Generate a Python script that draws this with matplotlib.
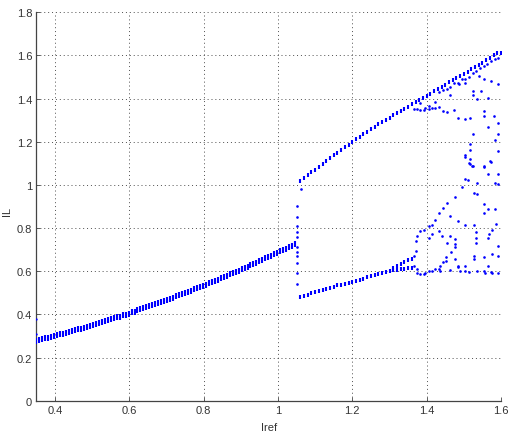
import matplotlib
matplotlib.use("Agg")
import matplotlib.pyplot as plt
from matplotlib import font_manager
from matplotlib.ticker import FuncFormatter

# ---- bifurcation data: inductor current samples IL versus reference current Iref ----

# period-1 branch
p1_iref = [0.350, 0.358, 0.366, 0.374, 0.382, 0.390, 0.398, 0.406, 0.414, 0.422,
           0.430, 0.438, 0.446, 0.454, 0.462, 0.470, 0.478, 0.486, 0.494, 0.502,
           0.510, 0.518, 0.526, 0.534, 0.542, 0.550, 0.558, 0.566, 0.574, 0.582,
           0.590, 0.598, 0.606, 0.614, 0.622, 0.630, 0.638, 0.646, 0.654, 0.662,
           0.670, 0.678, 0.686, 0.694, 0.702, 0.710, 0.718, 0.726, 0.734, 0.742,
           0.750, 0.758, 0.766, 0.774, 0.782, 0.790, 0.798, 0.806, 0.814, 0.822,
           0.830, 0.838, 0.846, 0.854, 0.862, 0.870, 0.878, 0.886, 0.894, 0.902,
           0.910, 0.918, 0.926, 0.934, 0.942, 0.950, 0.958, 0.966, 0.974, 0.982,
           0.990, 0.998, 1.006, 1.014, 1.022, 1.030, 1.038, 1.046]
p1_il = [0.278, 0.282, 0.285, 0.289, 0.292, 0.296, 0.300, 0.303, 0.307, 0.311,
         0.315, 0.318, 0.322, 0.326, 0.330, 0.334, 0.338, 0.343, 0.347, 0.351,
         0.355, 0.359, 0.364, 0.368, 0.372, 0.377, 0.381, 0.386, 0.390, 0.395,
         0.399, 0.404, 0.409, 0.413, 0.418, 0.423, 0.428, 0.433, 0.437, 0.442,
         0.447, 0.452, 0.458, 0.463, 0.468, 0.473, 0.478, 0.483, 0.489, 0.494,
         0.499, 0.505, 0.510, 0.516, 0.521, 0.527, 0.532, 0.538, 0.544, 0.549,
         0.555, 0.561, 0.567, 0.573, 0.579, 0.585, 0.591, 0.597, 0.603, 0.609,
         0.615, 0.621, 0.627, 0.634, 0.640, 0.646, 0.653, 0.659, 0.665, 0.672,
         0.678, 0.685, 0.692, 0.698, 0.705, 0.712, 0.718, 0.725]

# start-up samples at the first Iref value
start_iref = [0.350, 0.350]
start_il = [0.378, 0.308]

# samples at the border collision
jump_iref = [1.052, 1.052, 1.052, 1.052, 1.052, 1.052, 1.052, 1.052, 1.052, 1.052, 1.052, 1.061]
jump_il = [0.903, 0.849, 0.810, 0.780, 0.760, 0.710, 0.690, 0.670, 0.640, 0.590, 0.540, 0.983]

# period-2 upper branch (top edge of the band beyond 1.38)
hi_iref = [1.06, 1.07, 1.08, 1.09, 1.10, 1.11, 1.12, 1.13, 1.14, 1.15,
           1.16, 1.17, 1.18, 1.19, 1.20, 1.21, 1.22, 1.23, 1.24, 1.25,
           1.26, 1.27, 1.28, 1.29, 1.30, 1.31, 1.32, 1.33, 1.34, 1.35,
           1.36, 1.37, 1.38, 1.39, 1.40, 1.41, 1.42, 1.43, 1.44, 1.45,
           1.46, 1.47, 1.48, 1.49, 1.50, 1.51, 1.52, 1.53, 1.54, 1.55,
           1.56, 1.57, 1.58, 1.59, 1.60]
hi_il = [1.020, 1.033, 1.046, 1.058, 1.071, 1.084, 1.097, 1.111, 1.124, 1.137,
         1.149, 1.162, 1.174, 1.187, 1.199, 1.211, 1.223, 1.235, 1.246, 1.258,
         1.269, 1.280, 1.291, 1.301, 1.312, 1.322, 1.332, 1.343, 1.353, 1.363,
         1.373, 1.383, 1.393, 1.402, 1.412, 1.423, 1.434, 1.445, 1.455, 1.465,
         1.475, 1.485, 1.495, 1.505, 1.515, 1.525, 1.535, 1.545, 1.555, 1.566,
         1.577, 1.590, 1.600, 1.610, 1.612]

# period-2 lower branch
lo_iref = [1.06, 1.07, 1.08, 1.09, 1.10, 1.11, 1.12, 1.13, 1.14, 1.15,
           1.16, 1.17, 1.18, 1.19, 1.20, 1.21, 1.22, 1.23, 1.24, 1.25,
           1.26, 1.27, 1.28, 1.29, 1.30]
lo_il = [0.479, 0.486, 0.492, 0.498, 0.504, 0.509, 0.514, 0.519, 0.524, 0.529,
         0.534, 0.538, 0.543, 0.547, 0.552, 0.556, 0.561, 0.566, 0.571, 0.576,
         0.581, 0.586, 0.592, 0.597, 0.603]

# period-4 split of the lower branch
lo4_iref = [1.31, 1.32, 1.33, 1.34, 1.35, 1.36, 1.31, 1.32, 1.33, 1.34, 1.35, 1.36]
lo4_il = [0.615, 0.625, 0.634, 0.643, 0.650, 0.656, 0.604, 0.607, 0.610, 0.612, 0.615, 0.617]

# chaotic / high-period region
chaos_iref = [
    # second samples inside the upper band
    1.434, 1.444, 1.454, 1.464, 1.474, 1.484, 1.494, 1.504, 1.514, 1.524,
    1.534, 1.544, 1.553, 1.563, 1.573, 1.583, 1.593,
    # sub-band near 1.35
    1.365, 1.374, 1.383, 1.383, 1.394, 1.396, 1.405, 1.405, 1.415, 1.423,
    1.423, 1.432, 1.443, 1.455, 1.474, 1.484, 1.504, 1.516,
    # scattered upper points
    1.463, 1.486, 1.504, 1.525, 1.525, 1.535, 1.542, 1.555, 1.565, 1.574,
    1.592, 1.555, 1.555, 1.565, 1.593, 1.593, 1.584, 1.593, 1.574, 1.555,
    1.565, 1.593, 1.525, 1.516, 1.516, 1.504, 1.504, 1.516, 1.516, 1.525,
    1.553, 1.571, 1.584, 1.593, 1.580, 1.545,
    # rising arm out of the lower branch
    1.365, 1.365, 1.370, 1.370, 1.374, 1.374, 1.383, 1.394, 1.405, 1.414,
    1.423, 1.434, 1.444, 1.455, 1.475, 1.495, 1.504, 1.510, 1.522, 1.513,
    # middle band
    1.535, 1.526, 1.535, 1.555, 1.555, 1.565, 1.584, 1.587, 1.576, 1.567,
    1.565, 1.593, 1.593, 1.576, 1.532, 1.532, 1.532, 1.526, 1.526, 1.553,
    1.565, 1.463, 1.483, 1.504, 1.528,
    # lower band
    1.405, 1.414, 1.434, 1.442, 1.456, 1.463, 1.465, 1.475, 1.475, 1.475,
    1.475, 1.453, 1.453, 1.444, 1.437, 1.434, 1.423, 1.484, 1.484, 1.504,
    1.504, 1.555, 1.574,
    # bottom edge of the chaotic band
    1.374, 1.383, 1.392, 1.396, 1.405, 1.414, 1.437, 1.463, 1.490, 1.513,
    1.535, 1.558, 1.576, 1.593,
]
chaos_il = [
    1.430, 1.440, 1.445, 1.455, 1.470, 1.470, 1.490, 1.490, 1.500, 1.520,
    1.530, 1.540, 1.550, 1.560, 1.575, 1.585, 1.590,
    1.350, 1.354, 1.381, 1.347, 1.347, 1.358, 1.366, 1.350, 1.358, 1.384,
    1.358, 1.361, 1.342, 1.338, 1.347, 1.312, 1.304, 1.309,
    1.415, 1.469, 1.474, 1.435, 1.415, 1.400, 1.505, 1.489, 1.401, 1.481,
    1.469, 1.343, 1.319, 1.266, 1.289, 1.235, 1.207, 1.157, 1.106, 1.083,
    1.050, 1.050, 1.238, 1.188, 1.162, 1.138, 1.130, 1.119, 1.096, 1.088,
    1.088, 1.110, 1.008, 1.004, 1.320, 1.435,
    0.625, 0.671, 0.694, 0.741, 0.764, 0.610, 0.787, 0.792, 0.810, 0.813,
    0.836, 0.869, 0.891, 0.918, 0.946, 0.989, 1.026, 1.023, 1.088, 1.100,
    1.008, 0.961, 0.956, 0.911, 0.872, 0.887, 0.887, 0.818, 0.792, 0.772,
    0.752, 0.718, 0.671, 0.679, 0.780, 0.756, 0.733, 0.671, 0.656, 0.664,
    0.622, 0.856, 0.833, 0.813, 0.813,
    0.752, 0.772, 0.787, 0.761, 0.733, 0.764, 0.687, 0.710, 0.725, 0.749,
    0.656, 0.664, 0.648, 0.641, 0.625, 0.610, 0.612, 0.625, 0.618, 0.625,
    0.602, 0.602, 0.597,
    0.594, 0.587, 0.587, 0.594, 0.602, 0.602, 0.602, 0.604, 0.602, 0.597,
    0.602, 0.594, 0.594, 0.594,
]

x_ticks = [0.4, 0.6, 0.8, 1.0, 1.2, 1.4, 1.6]
y_ticks = [0, 0.2, 0.4, 0.6, 0.8, 1.0, 1.2, 1.4, 1.6, 1.8]

# ---- figure ----
installed = {f.name for f in font_manager.fontManager.ttflist}
families = [f for f in ("Liberation Sans Narrow", "Liberation Sans") if f in installed]
plt.rcParams["font.family"] = families + ["DejaVu Sans"]

fig = plt.figure(figsize=(5.09, 4.35), dpi=100)
ax = fig.add_axes([0.0715, 0.0766, 0.9128, 0.8929])

blue = "#0000ff"
dash = dict(ls="none", marker="|", color=blue, zorder=3)
ax.plot(p1_iref, p1_il, ms=4.2, mew=1.5, **dash)
ax.plot(hi_iref, hi_il, ms=2.8, mew=1.5, **dash)
ax.plot(lo_iref, lo_il, ms=3.2, mew=1.5, **dash)
ax.plot(lo4_iref, lo4_il, ms=2.8, mew=1.5, **dash)

dot = dict(ls="none", marker="o", color=blue, mew=0, zorder=3)
ax.plot(start_iref, start_il, ms=1.7, **dot)
ax.plot(jump_iref, jump_il, ms=1.9, **dot)
ax.plot(chaos_iref, chaos_il, ms=1.9, **dot)

ax.set_xlim(0.35, 1.6)
ax.set_ylim(0, 1.8)
ax.set_xticks(x_ticks)
ax.set_yticks(y_ticks)
fmt = FuncFormatter(lambda v, _: f"{v:g}")
ax.xaxis.set_major_formatter(fmt)
ax.yaxis.set_major_formatter(fmt)

ax.grid(True, color="#222222", linestyle=(0, (1, 3)), linewidth=0.7, alpha=0.8)
ax.set_axisbelow(True)
for side in ("top", "right"):
    ax.spines[side].set_visible(False)
for side in ("left", "bottom"):
    ax.spines[side].set_color("#444444")
    ax.spines[side].set_linewidth(0.9)
ax.tick_params(direction="in", length=3, width=0.6, colors="#444444",
               labelcolor="#333333", labelsize=8, pad=3)

ax.set_xlabel("Iref", fontsize=8, color="#333333")
ax.xaxis.set_label_coords(0.5, -0.055)
ax.xaxis.label.set_va("top")
ax.set_ylabel("IL", fontsize=8, color="#333333")
ax.yaxis.set_label_coords(-0.053, 0.49)

fig.savefig("out.png", dpi=100)
